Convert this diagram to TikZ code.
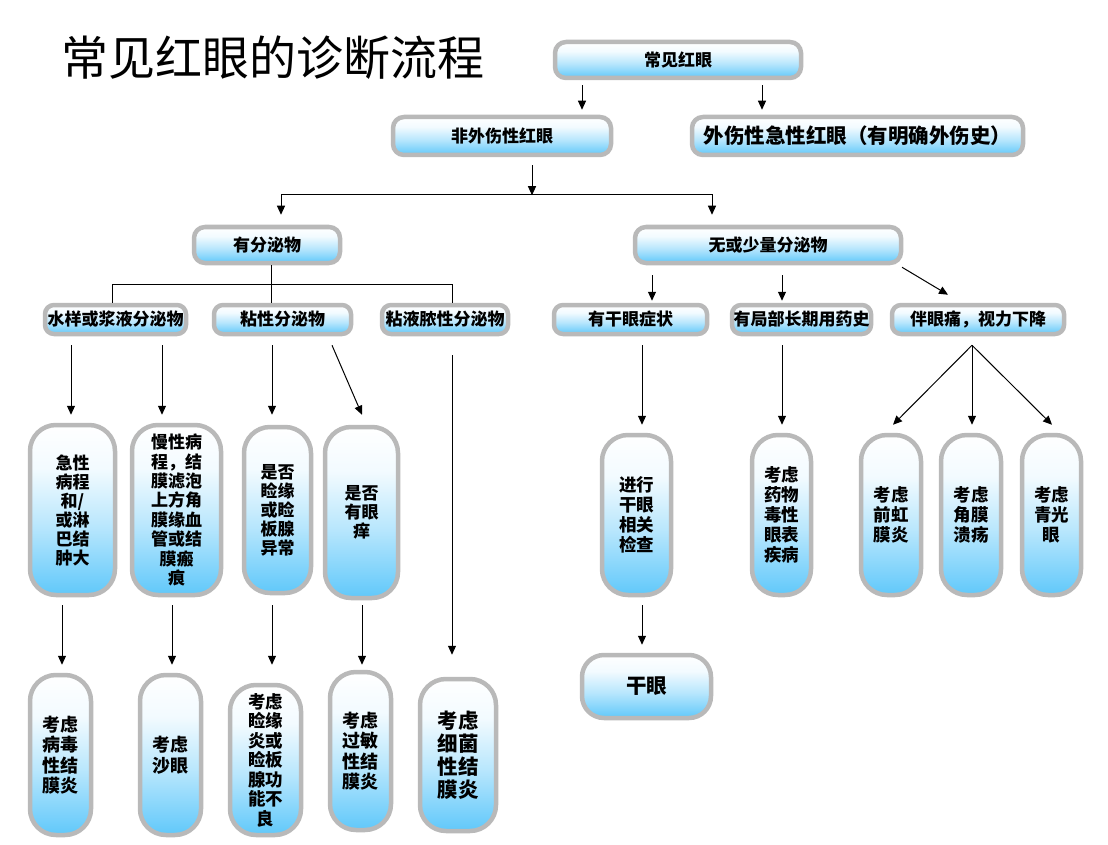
\documentclass[tikz,border=0pt]{standalone}
\usepackage{fontspec}
\newfontfamily\cjk{Noto Sans CJK SC}
\usetikzlibrary{arrows.meta}

\definecolor{boxblue}{RGB}{96,200,250}
\definecolor{boxgray}{RGB}{185,185,185}
\pgfdeclareverticalshading{boxshade}{100bp}{color(0bp)=(boxblue); color(25bp)=(boxblue); color(45bp)=(boxblue!45!white); color(62bp)=(boxblue!8!white); color(75bp)=(white); color(100bp)=(white)}

\tikzset{
  box/.style={draw=boxgray, line width=4.5pt, shading=boxshade, align=center, inner sep=0pt, text=black,
    font=\cjk\bfseries\fontsize{17}{20}\selectfont},
  wide/.style={box, rounded corners=11pt},
  mid/.style={box, rounded corners=9pt, minimum height=29pt},
  tall/.style={box, rounded corners=26pt, font=\cjk\bfseries\fontsize{17.5}{20}\selectfont},
  big/.style={font=\cjk\bfseries\fontsize{20.5}{23}\selectfont},
  arr/.style={-{Triangle[length=9pt,width=8pt]}, line width=1pt},
  both/.style={{Triangle[length=9pt,width=8pt]}-{Triangle[length=9pt,width=8pt]}, line width=1pt},
  link/.style={line width=1pt}
}

\begin{document}
\begin{tikzpicture}[x=1pt, y=-1pt]
    \useasboundingbox (0,0) rectangle (1108,845);

    % Title
    \node[font=\cjk\fontsize{47}{47}\selectfont] (title) at (273,58) {常见红眼的诊断流程};

    % Upper levels
    \node[wide, minimum width=246pt, minimum height=36pt] (red) at (678,60) {常见红眼};
    \node[wide, minimum width=218pt, minimum height=38pt] (nontrauma) at (502,136) {非外伤性红眼};
    \node[wide, big, minimum width=331pt, minimum height=38pt] (trauma) at (857.5,136) {外伤性急性红眼（有明确外伤史）};
    \node[wide, minimum width=146pt, minimum height=36pt] (sec) at (267,245) {有分泌物};
    \node[wide, minimum width=266pt, minimum height=36pt] (nosec) at (768,245) {无或少量分泌物};

    % Secretion types and symptoms
    \node[mid, minimum width=141pt] (watery) at (115.5,319.5) {水样或浆液分泌物};
    \node[mid, minimum width=137pt] (mucoid) at (282.5,319.5) {粘性分泌物};
    \node[mid, minimum width=126pt] (mucopur) at (445,319.5) {粘液脓性分泌物};
    \node[mid, minimum width=153pt] (dryeye) at (630.5,319.5) {有干眼症状};
    \node[mid, minimum width=139pt] (localdrug) at (801.5,319.5) {有局部长期用药史};
    \node[mid, minimum width=172pt] (pain) at (978,319.5) {伴眼痛，视力下降};

    % Findings
    \node[tall, font=\cjk\bfseries\fontsize{17}{19}\selectfont, minimum width=85pt, minimum height=170pt] (acute) at (72.5,510) {急性\\病程\\和/\\或淋\\巴结\\肿大};
    \node[tall, font=\cjk\bfseries\fontsize{17}{19.4}\selectfont, minimum width=89pt, minimum height=170pt] (chronic) at (176.5,510) {慢性病\\程，结\\膜滤泡\\上方角\\膜缘血\\管或结\\膜瘢\\痕};
    \node[tall, font=\cjk\bfseries\fontsize{17}{19}\selectfont, minimum width=67pt, minimum height=166pt] (lidq) at (277.5,510) {是否\\睑缘\\或睑\\板腺\\异常};
    \node[tall, font=\cjk\bfseries\fontsize{17}{19}\selectfont, minimum width=73pt, minimum height=171pt] (itchq) at (361.5,512.5) {是否\\有眼\\痒};
    \node[tall, minimum width=69pt, minimum height=160pt] (dryexam) at (636.5,515) {进行\\干眼\\相关\\检查};
    \node[tall, minimum width=59pt, minimum height=160pt] (drugtox) at (781.5,515) {考虑\\药物\\毒性\\眼表\\疾病};
    \node[tall, minimum width=60pt, minimum height=160pt] (iritis) at (891,515) {考虑\\前虹\\膜炎};
    \node[tall, minimum width=60pt, minimum height=160pt] (ulcer) at (971,515) {考虑\\角膜\\溃疡};
    \node[tall, minimum width=59pt, minimum height=160pt] (glaucoma) at (1051.5,515) {考虑\\青光\\眼};

    % Diagnoses
    \node[wide, big, rounded corners=22pt, minimum width=129pt, minimum height=63pt] (dry) at (646.5,686.5) {干眼};
    \node[tall, font=\cjk\bfseries\fontsize{18}{20.5}\selectfont, minimum width=61pt, minimum height=160pt] (viral) at (60.5,755) {考虑\\病毒\\性结\\膜炎};
    \node[tall, font=\cjk\bfseries\fontsize{18}{20.5}\selectfont, minimum width=61pt, minimum height=160pt] (trachoma) at (170.5,755) {考虑\\沙眼};
    \node[tall, font=\cjk\bfseries\fontsize{17.5}{19.5}\selectfont, minimum width=71pt, minimum height=150pt] (bleph) at (265.5,760) {考虑\\睑缘\\炎或\\睑板\\腺功\\能不\\良};
    \node[tall, font=\cjk\bfseries\fontsize{18}{20.5}\selectfont, minimum width=61pt, minimum height=158pt] (allergic) at (360.5,751) {考虑\\过敏\\性结\\膜炎};
    \node[tall, big, minimum width=76pt, minimum height=152pt] (bacterial) at (458,755) {考虑\\细菌\\性结\\膜炎};

    % Connectors, upper part
    \draw[arr] ([xshift=-96pt,yshift=-5pt]red.south) -- ([xshift=80pt,yshift=5pt]nontrauma.north);
    \draw[arr] ([xshift=84pt,yshift=-5pt]red.south) -- ([xshift=-95.5pt,yshift=5pt]trauma.north);
    \draw[arr] ([xshift=30pt,yshift=-8pt]nontrauma.south) -- ([xshift=30pt,yshift=-38pt]nontrauma.south);
    \draw[both] ([xshift=14pt,yshift=10pt]sec.north) -- ++(0,-20) -| ([xshift=-56pt,yshift=10pt]nosec.north);

    % With secretion
    \draw[link] ([xshift=4pt]sec.south) -- ([xshift=-11.5pt]mucoid.north);
    \draw[link] ([xshift=-3.5pt]watery.north) -- ++(0,-18) -| ([xshift=7pt]mucopur.north);
    \draw[arr] ([xshift=-44.5pt,yshift=-9pt]watery.south) -- ([xshift=-1.5pt,yshift=8pt]acute.north);
    \draw[arr] ([xshift=46.5pt,yshift=-9pt]watery.south) -- ([xshift=-14.5pt,yshift=8pt]chronic.north);
    \draw[arr] ([xshift=-10.5pt,yshift=-9pt]mucoid.south) -- ([xshift=-5.5pt,yshift=10pt]lidq.north);
    \draw[arr] ([xshift=49.5pt,yshift=-9pt]mucoid.south) -- ([xshift=0.5pt,yshift=10pt]itchq.north);
    \draw[arr] ([xshift=7pt,yshift=-19pt]mucopur.south) -- ([xshift=-6pt,yshift=22pt]bacterial.north);
    \draw[arr] ([xshift=-10.5pt,yshift=-8pt]acute.south) -- ([xshift=1.5pt,yshift=8pt]viral.north);
    \draw[arr] ([xshift=-4.5pt,yshift=-8pt]chronic.south) -- ([xshift=1.5pt,yshift=8pt]trachoma.north);
    \draw[arr] ([xshift=-5.5pt,yshift=-10pt]lidq.south) -- ([xshift=6.5pt,yshift=18pt]bleph.north);
    \draw[arr] ([xshift=0.5pt,yshift=-5pt]itchq.south) -- ([xshift=1.5pt,yshift=5pt]allergic.north);

    % Without secretion
    \draw[arr] ([xshift=-116pt,yshift=-10pt]nosec.south) -- ([xshift=21.5pt,yshift=2pt]dryeye.north);
    \draw[arr] ([xshift=14pt,yshift=-10pt]nosec.south) -- ([xshift=-19.5pt,yshift=2pt]localdrug.north);
    \draw[arr] ([xshift=134pt,yshift=-2pt]nosec.south) -- ([xshift=-30pt,yshift=8pt]pain.north);
    \draw[arr] ([xshift=11.5pt,yshift=-9pt]dryeye.south) -- ([xshift=5.5pt,yshift=8pt]dryexam.north);
    \draw[arr] ([xshift=-19.5pt,yshift=-9pt]localdrug.south) -- ([xshift=0.5pt,yshift=8pt]drugtox.north);
    \draw[arr] ([xshift=-6pt,yshift=-9pt]pain.south) -- ([xshift=2pt,yshift=8pt]iritis.north);
    \draw[arr] ([xshift=-6pt,yshift=-9pt]pain.south) -- ([xshift=1pt,yshift=8pt]ulcer.north);
    \draw[arr] ([xshift=-6pt,yshift=-9pt]pain.south) -- ([xshift=0.5pt,yshift=8pt]glaucoma.north);
    \draw[arr] ([xshift=5.5pt,yshift=-8pt]dryexam.south) -- ([xshift=-4.5pt,yshift=8pt]dry.north);
\end{tikzpicture}
\end{document}
